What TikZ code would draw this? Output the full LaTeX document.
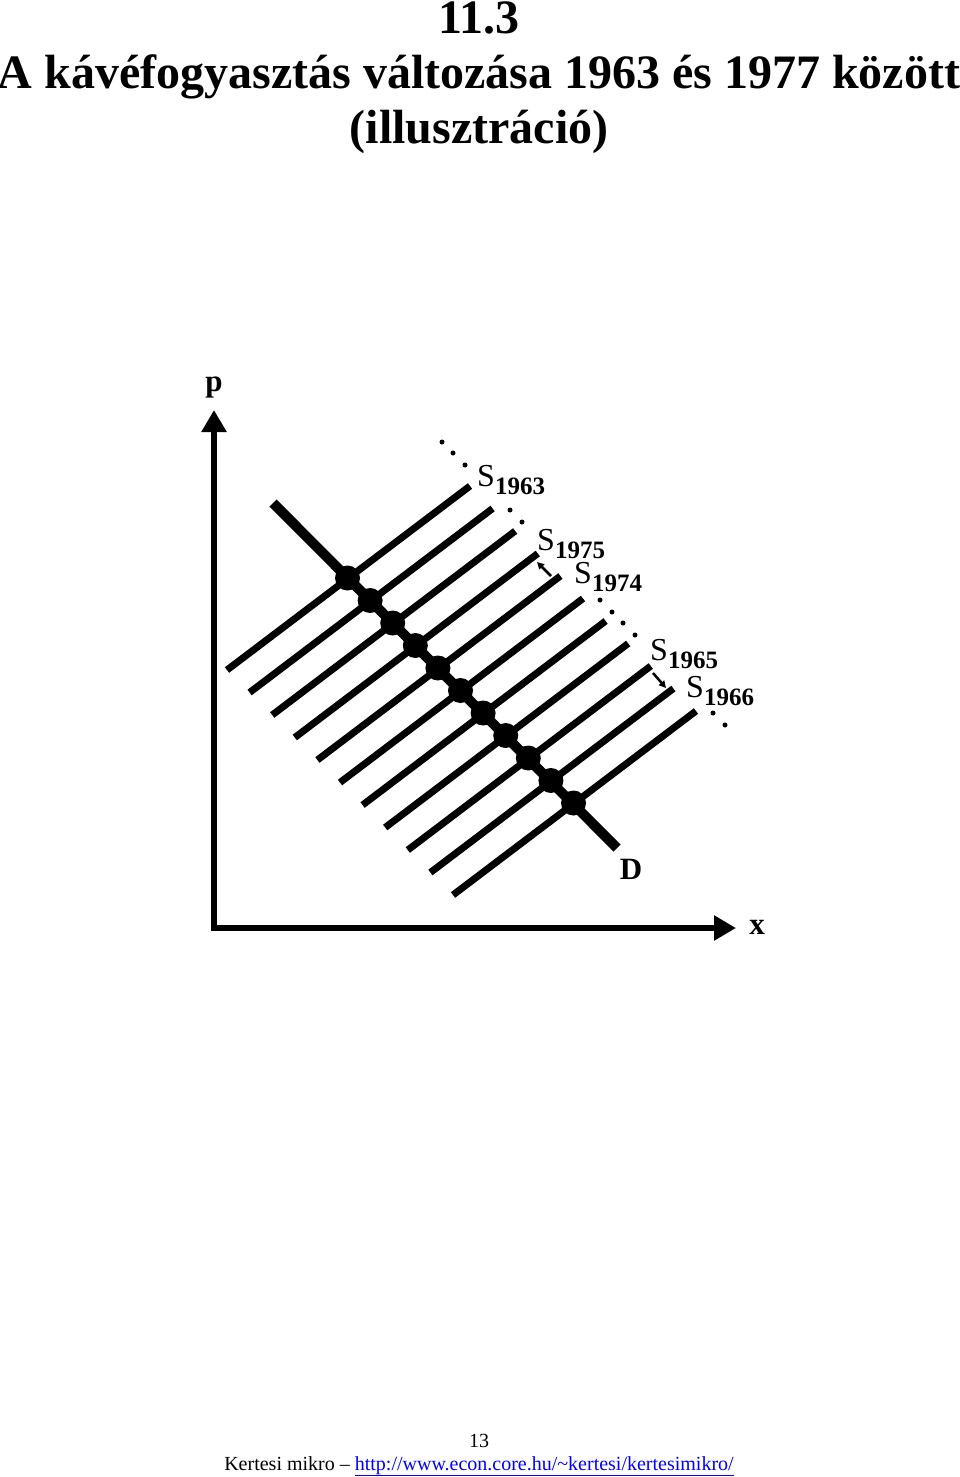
\documentclass[tikz,border=0pt]{standalone}
\usepackage{fontspec}
\setmainfont{Liberation Serif}
\usetikzlibrary{arrows.meta}
\definecolor{linkblue}{RGB}{0,0,255}
\newcommand{\Syear}[1]{S\raisebox{-8pt}{\fontsize{25}{25}\selectfont\bfseries #1}}

\begin{document}
\begin{tikzpicture}[x=1pt,y=-1pt,
  supply/.style={line width=7pt},
  demand/.style={line width=10pt},
  axis/.style={line width=6pt,-{Triangle[length=22pt,width=24pt]}},
  eqpoint/.style={circle,fill,inner sep=0pt,minimum size=25pt},
  gapdot/.style={circle,fill,inner sep=0pt,minimum size=5pt},
  shiftarrow/.style={line width=2.5pt,-{Triangle[length=7pt,width=7pt]}},
  yearlabel/.style={anchor=base west,inner sep=0pt,font=\fontsize{32}{32}\selectfont},
  axislabel/.style={anchor=base,inner sep=0pt,font=\fontsize{31}{31}\selectfont\bfseries},
  titleline/.style={anchor=base,inner sep=0pt,font=\fontsize{48}{48}\selectfont\bfseries},
  footline/.style={anchor=base,inner sep=0pt,font=\fontsize{20}{20}\selectfont}]
\useasboundingbox (0,0) rectangle (960,1477);
    \node[titleline] (num) at (479,34) {11.3};
    \node[titleline] (title) at (479,89) {A kávéfogyasztás változása 1963 és 1977 között};
    \node[titleline] (subtitle) at (479,143) {(illusztráció)};
    \coordinate (origin) at (214,928);
    \coordinate (ptip) at (214,410);
    \coordinate (xstart) at (211,928);
    \coordinate (xtip) at (736,928);
    \draw[axis] (origin) -- (ptip);
    \draw[axis] (xstart) -- (xtip);
    \node[axislabel] (p) at (214,391) {p};
    \node[axislabel] (x) at (757,934) {x};
    \foreach \i in {0,...,10}{
        \coordinate (lo\i) at (227+22.6*\i,670+22.5*\i);
        \coordinate (hi\i) at (470+22.6*\i,486+22.5*\i);
        \draw[supply] (lo\i) -- (hi\i);
    }
    \coordinate (dtop) at (273,503);
    \coordinate (dbot) at (617,848);
    \draw[demand] (dtop) -- (dbot);
    \foreach \i in {0,...,10}
        \node[eqpoint] (eq\i) at (347.5+22.6*\i,578+22.5*\i) {};
    \node[axislabel] (D) at (631,879) {D};
    \foreach \x/\y in {442/442,453/453,465/465,510/510,522/522,600/600,612/612,623/623,635/635,713/713,725/725}
        \node[gapdot] at (\x,\y) {};
    \node[yearlabel] (s63) at (477,486) {\Syear{1963}};
    \node[yearlabel] (s75) at (537,550) {\Syear{1975}};
    \node[yearlabel] (s74) at (574,583) {\Syear{1974}};
    \node[yearlabel] (s65) at (650,660) {\Syear{1965}};
    \node[yearlabel] (s66) at (686,697) {\Syear{1966}};
    \coordinate (a75) at (551,576);
    \coordinate (b75) at (537,562);
    \coordinate (a65) at (653,673);
    \coordinate (b65) at (666,688);
    \draw[shiftarrow] (a75) -- (b75);
    \draw[shiftarrow] (a65) -- (b65);
    \node[footline] (page) at (479,1447) {13};
    \node[footline] (foot) at (479,1470) {Kertesi mikro -- {\color{linkblue}\underline{http://www.econ.core.hu/\textasciitilde kertesi/kertesimikro/}}};
\end{tikzpicture}
\end{document}
